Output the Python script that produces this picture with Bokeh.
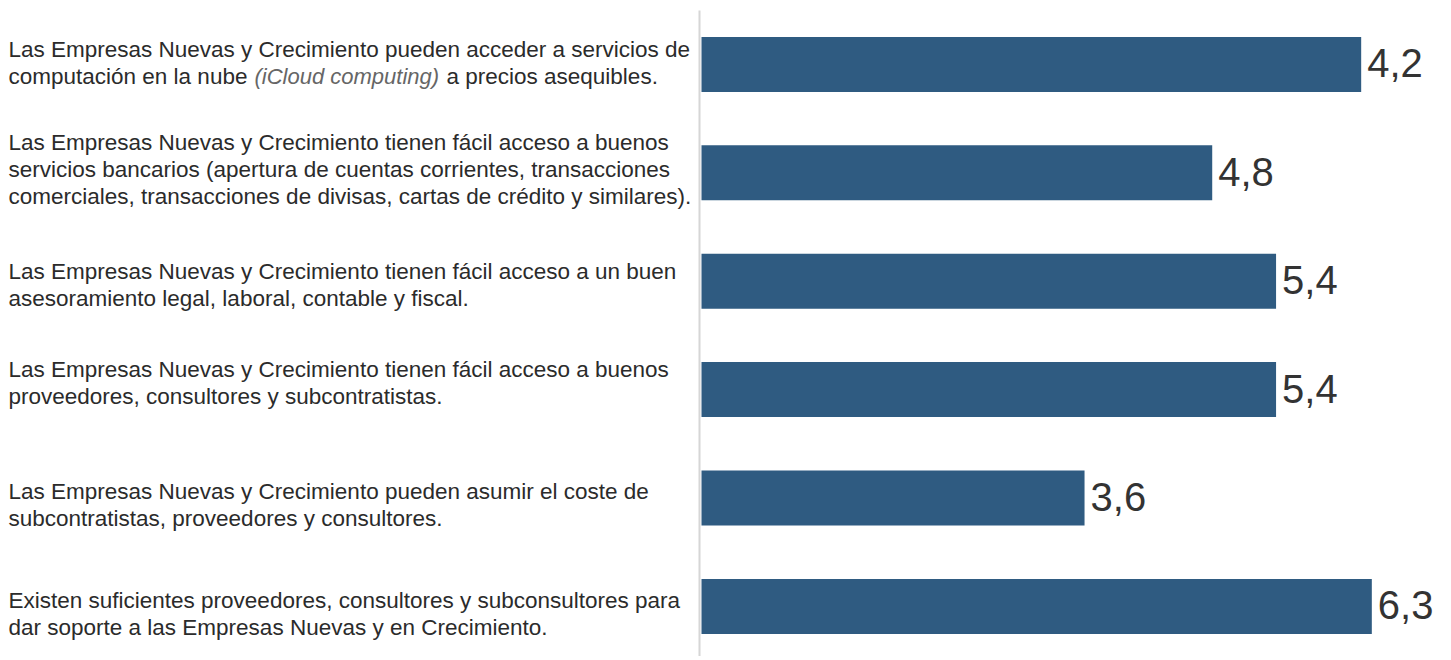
from bokeh.plotting import figure
from bokeh.models import Range1d, ColumnDataSource
from bokeh.core.properties import value
from bokeh.embed import file_html
from bokeh.resources import INLINE

# ---------------- data ----------------
statements = [
    ["Las Empresas Nuevas y Crecimiento pueden acceder a servicios de",
     "computación en la nube (iCloud computing) a precios asequibles."],
    ["Las Empresas Nuevas y Crecimiento tienen fácil acceso a buenos",
     "servicios bancarios (apertura de cuentas corrientes, transacciones",
     "comerciales, transacciones de divisas, cartas de crédito y similares)."],
    ["Las Empresas Nuevas y Crecimiento tienen fácil acceso a un buen",
     "asesoramiento legal, laboral, contable y fiscal."],
    ["Las Empresas Nuevas y Crecimiento tienen fácil acceso a buenos",
     "proveedores, consultores y subcontratistas."],
    ["Las Empresas Nuevas y Crecimiento pueden asumir el coste de",
     "subcontratistas, proveedores y consultores."],
    ["Existen suficientes proveedores, consultores y subconsultores para",
     "dar soporte a las Empresas Nuevas y en Crecimiento."],
]
# bar lengths as drawn in the picture
bar_values = [6.2, 4.8, 5.4, 5.4, 3.6, 6.3]
# printed value labels
value_labels = ["4,2", "4,8", "5,4", "5,4", "3,6", "6,3"]
italic_phrase = "(iCloud computing)"

# ---------------- layout ----------------
W, H = 1445, 656
ORIGIN_PX = 701.0      # canvas x of value 0
PX_PER_UNIT = 106.4
Y0_PX = 63.9           # canvas y of first bar centre
ROW_PX = 108.4
BAR_PX = 55.0
LINE_PX = 27.0
TEXT_LEFT_PX = 8
LINE_TOP_PX = 10
LABEL_NUDGE_PX = [-2, -4, 3, -7, 6, 7]   # small vertical placement tweaks of the text blocks
FONT = "Liberation Sans"
BAR_COLOR = "#2f5b81"
TEXT_COLOR = "#2b2b2b"

x_start = -ORIGIN_PX / PX_PER_UNIT
x_end = (W - ORIGIN_PX) / PX_PER_UNIT
y_top = -Y0_PX / ROW_PX
y_bottom = (H - Y0_PX) / ROW_PX

p = figure(width=W, height=H, output_backend="svg", toolbar_location=None,
           x_range=Range1d(x_start, x_end), y_range=Range1d(y_bottom, y_top),
           min_border=0, min_border_left=0, min_border_right=0,
           min_border_top=0, min_border_bottom=0)
p.axis.visible = False
p.grid.visible = False
p.outline_line_color = None
p.background_fill_color = "white"
p.border_fill_color = "white"

rows = list(range(len(bar_values)))

# vertical baseline
line_x = -2.0 / PX_PER_UNIT
p.segment(x0=[line_x], x1=[line_x],
          y0=[(LINE_TOP_PX - Y0_PX) / ROW_PX], y1=[y_bottom + 1],
          line_color="#d6d6d6", line_width=2)

# bars
src = ColumnDataSource(dict(y=rows, right=bar_values, lab=value_labels))
p.hbar(y="y", left=0, right="right", height=BAR_PX / ROW_PX, source=src,
       fill_color=BAR_COLOR, line_color=None)

# value labels
p.text(x="right", y="y", text="lab", source=src, x_offset=6, y_offset=-1,
       text_font=value(FONT), text_font_size="40px", text_color="#333333",
       text_align="left", text_baseline="alphabetic")

# left statements
lx, ly, lt, loff, lyoff = [], [], [], [], []
ix, iy, it, ioff, iyoff = [], [], [], [], []
for i, lines in enumerate(statements):
    n = len(lines)
    for k, line in enumerate(lines):
        yoff = (k - (n - 1) / 2.0) * LINE_PX + 0.5 + LABEL_NUDGE_PX[i]
        if italic_phrase in line:
            before, after = line.split(italic_phrase)
            pieces = [(before.strip(), 0, False), (italic_phrase, 246, True),
                      (after.strip(), 438, False)]
            for txt, off, ital in pieces:
                if ital:
                    ix.append(x_start); iy.append(i); it.append(txt)
                    ioff.append(TEXT_LEFT_PX + off); iyoff.append(yoff)
                else:
                    lx.append(x_start); ly.append(i); lt.append(txt)
                    loff.append(TEXT_LEFT_PX + off); lyoff.append(yoff)
        else:
            lx.append(x_start); ly.append(i); lt.append(line)
            loff.append(TEXT_LEFT_PX); lyoff.append(yoff)

p.text(x="x", y="y", text="t", x_offset="xo", y_offset="yo",
       source=ColumnDataSource(dict(x=lx, y=ly, t=lt, xo=loff, yo=lyoff)),
       text_font=value(FONT), text_font_size="22.5px", text_color=TEXT_COLOR,
       text_align="left", text_baseline="alphabetic")
p.text(x="x", y="y", text="t", x_offset="xo", y_offset="yo",
       source=ColumnDataSource(dict(x=ix, y=iy, t=it, xo=ioff, yo=iyoff)),
       text_font=value(FONT), text_font_size="22px", text_font_style="italic",
       text_color="#666666", text_align="left", text_baseline="alphabetic")

open("out.html", "w").write(file_html(p, INLINE))
